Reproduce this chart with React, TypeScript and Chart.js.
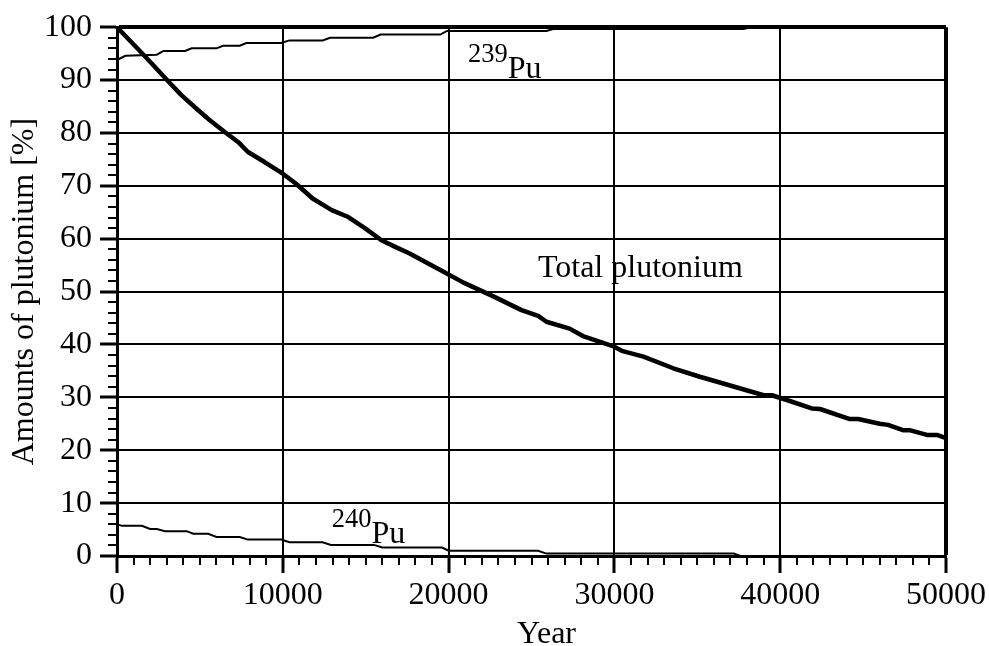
import React, { useEffect, useRef } from 'react';
import { Chart, registerables } from 'chart.js';

Chart.register(...registerables);

// ---- Data ----
const totalYears = [0, 1600, 3200, 3900, 4900, 5600, 6500, 7300, 7900, 8900, 10000, 10800, 11800, 12950, 13950, 14950, 15950, 16750, 17650, 18600, 19500, 20900, 22700, 24400, 25400, 25900, 27300, 28100, 29900, 30450, 31750, 33550, 35150, 36150, 39000, 39500, 40400, 41900, 42400, 44200, 44700, 46000, 46500, 47400, 47800, 48850, 49450, 50000];
const totalValues = [100, 94.8, 89.4, 87.1, 84.3, 82.4, 80.2, 78.3, 76.4, 74.5, 72.3, 70.4, 67.6, 65.4, 64.1, 62.0, 59.7, 58.5, 57.2, 55.6, 54.1, 51.7, 49.1, 46.5, 45.4, 44.3, 43.0, 41.6, 39.7, 38.8, 37.7, 35.5, 33.9, 33.0, 30.4, 30.4, 29.5, 27.9, 27.8, 25.9, 25.9, 25.0, 24.8, 23.8, 23.8, 22.9, 22.9, 22.3];

const pu239Years = [0, 500, 2400, 2800, 4100, 4500, 6000, 6400, 7400, 7800, 9900, 10400, 12400, 12850, 15450, 15900, 19500, 19900, 25900, 26300, 37800, 38200, 50000];
const pu239Values = [93.8, 94.6, 94.8, 95.5, 95.5, 96.0, 96.0, 96.5, 96.5, 97.0, 97.0, 97.5, 97.5, 98.0, 98.0, 98.6, 98.6, 99.3, 99.3, 99.65, 99.65, 100, 100];

const pu240Years = [0, 300, 1500, 2000, 2400, 2900, 4200, 4600, 5500, 6000, 7400, 7900, 9900, 10400, 12400, 12900, 15500, 16000, 19600, 20000, 25400, 25900, 37200, 37600, 50000];
const pu240Values = [6.0, 5.7, 5.7, 5.1, 5.1, 4.7, 4.7, 4.2, 4.2, 3.6, 3.6, 3.1, 3.1, 2.6, 2.6, 2.1, 2.1, 1.6, 1.6, 1.0, 1.0, 0.45, 0.45, 0, 0];

const xTickLabels = ['0', '10000', '20000', '30000', '40000', '50000'];
const yTickLabels = ['0', '10', '20', '30', '40', '50', '60', '70', '80', '90', '100'];

const xMax = 50000;
const yMax = 100;
const xMajorStep = 10000;
const yMajorStep = 10;
const xMinorStep = 1000;
const yMinorStep = 2;

const xTitle = 'Year';
const yTitle = 'Amounts of plutonium [%]';

// Annotation texts placed in data coordinates
const labelTotal = { text: 'Total plutonium', x: 25390, y: 52.8 };
const label239 = { sup: '239', base: 'Pu', x: 21170, supY: 93.4, baseY: 90.4 };
const label240 = { sup: '240', base: 'Pu', x: 12950, supY: 5.5, baseY: 2.5 };

const FONT = '"Liberation Serif", "Times New Roman", serif';
const FS = 32;

function toPoints(xs: number[], ys: number[]) {
  return xs.map((x, i) => ({ x, y: ys[i] }));
}

const extrasPlugin = {
  id: 'extras',
  afterDraw(chart: any) {
    const { ctx, chartArea, scales } = chart;
    const xs = scales.x;
    const ys = scales.y;
    ctx.save();
    ctx.strokeStyle = '#000';
    ctx.lineWidth = 2;
    // minor ticks y
    for (let v = 0; v <= yMax; v += yMinorStep) {
      if (v % yMajorStep === 0) continue;
      const py = Math.round(ys.getPixelForValue(v));
      ctx.beginPath();
      ctx.moveTo(chartArea.left - 9, py);
      ctx.lineTo(chartArea.left, py);
      ctx.stroke();
    }
    // minor ticks x
    for (let v = 0; v <= xMax; v += xMinorStep) {
      if (v % xMajorStep === 0) continue;
      const px = Math.round(xs.getPixelForValue(v));
      ctx.beginPath();
      ctx.moveTo(px, chartArea.bottom);
      ctx.lineTo(px, chartArea.bottom + 9);
      ctx.stroke();
    }
    ctx.fillStyle = '#000';
    // x axis title
    ctx.textBaseline = 'alphabetic';
    ctx.textAlign = 'center';
    ctx.font = `${FS}px ${FONT}`;
    ctx.fillText(xTitle, (chartArea.left + chartArea.right) / 2 + 15, chart.height - 3);
    // text labels
    ctx.textAlign = 'left';
    ctx.font = `${FS}px ${FONT}`;
    ctx.fillText(labelTotal.text, xs.getPixelForValue(labelTotal.x), ys.getPixelForValue(labelTotal.y));
    for (const l of [label239, label240]) {
      const lx = xs.getPixelForValue(l.x);
      ctx.font = `26.5px ${FONT}`;
      ctx.fillText(l.sup, lx, ys.getPixelForValue(l.supY));
      const w = ctx.measureText(l.sup).width;
      ctx.font = `${FS}px ${FONT}`;
      ctx.fillText(l.base, lx + w, ys.getPixelForValue(l.baseY));
    }
    ctx.restore();
  },
};

export default function App() {
  const ref = useRef<HTMLCanvasElement | null>(null);
  useEffect(() => {
    if (!ref.current) return;
    const chart = new Chart(ref.current, {
      type: 'line',
      data: {
        datasets: [
          {
            label: 'Total plutonium',
            data: toPoints(totalYears, totalValues),
            borderColor: '#000',
            borderWidth: 4.5,
            pointRadius: 0,
            tension: 0,
            borderJoinStyle: 'round',
          },
          {
            label: '239Pu',
            data: toPoints(pu239Years, pu239Values),
            borderColor: '#000',
            borderWidth: 2,
            pointRadius: 0,
            tension: 0,
          },
          {
            label: '240Pu',
            data: toPoints(pu240Years, pu240Values),
            borderColor: '#000',
            borderWidth: 2,
            pointRadius: 0,
            tension: 0,
          },
        ],
      },
      options: {
        animation: false,
        responsive: false,
        clip: false as any,
        layout: { padding: { left: 0, right: 42, top: 27, bottom: 0 } },
        plugins: { legend: { display: false }, tooltip: { enabled: false } },
        scales: {
          x: {
            type: 'linear',
            min: 0,
            max: xMax,
            afterFit: (s: any) => { s.height = 90; },
            ticks: {
              stepSize: xMajorStep,
              color: '#000',
              font: { family: FONT, size: FS },
              padding: 3,
              maxRotation: 0,
              callback: (v: any) => xTickLabels[Math.round(Number(v) / xMajorStep)] ?? '',
            },
            grid: {
              color: '#000',
              lineWidth: (c: any) => (c.tick && c.tick.value === xMax ? 4 : 2),
              tickLength: 17,
              tickWidth: 3,
              tickColor: '#000',
            },
            border: { color: '#000', width: 3 },
            title: { display: false },
          },
          y: {
            type: 'linear',
            min: 0,
            max: yMax,
            afterFit: (s: any) => { s.width = 117; },
            ticks: {
              stepSize: yMajorStep,
              color: '#000',
              font: { family: FONT, size: FS },
              padding: 8,
              callback: (v: any) => yTickLabels[Math.round(Number(v) / yMajorStep)] ?? '',
            },
            grid: {
              color: '#000',
              lineWidth: (c: any) => (c.tick && c.tick.value === yMax ? 4 : 2),
              tickLength: 17,
              tickWidth: 3,
              tickColor: '#000',
            },
            border: { color: '#000', width: 3 },
            title: {
              display: true,
              text: yTitle,
              color: '#000',
              font: { family: FONT, size: FS },
              padding: { top: 5, bottom: 0 },
            },
          },
        },
      },
      plugins: [extrasPlugin],
    });
    return () => chart.destroy();
  }, []);
  return (
    <div style={{ position: 'absolute', left: 0, top: 0, width: 989, height: 646, background: '#fff' }}>
      <canvas ref={ref} width={989} height={646} />
    </div>
  );
}
